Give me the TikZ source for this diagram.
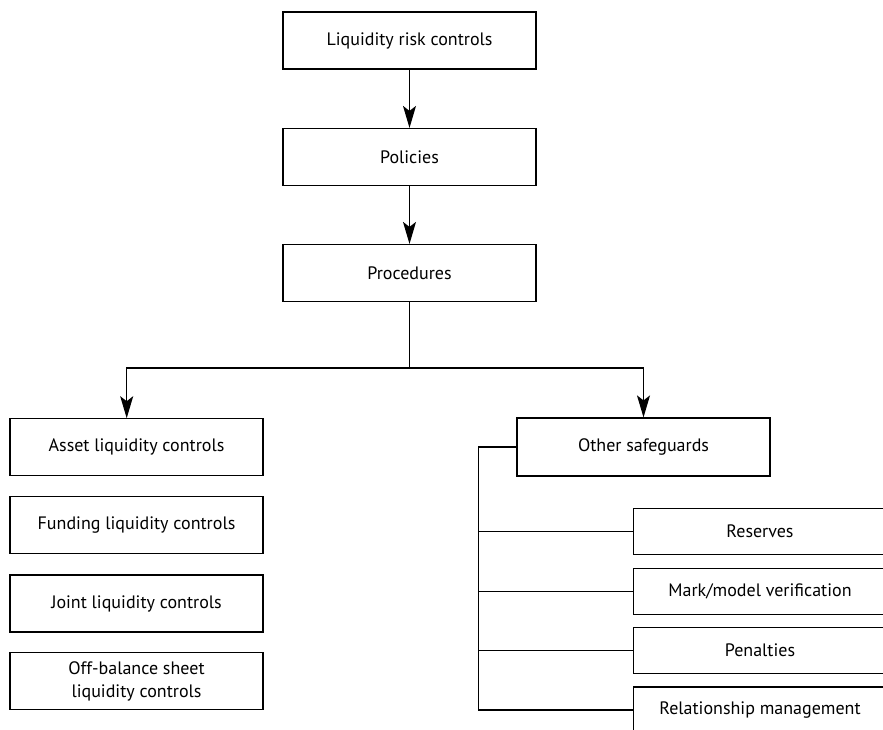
\documentclass[tikz,border=0pt]{standalone}
\usepackage{fontspec}
\setmainfont{PT Sans}
\usetikzlibrary{arrows.meta}
\begin{document}
\begin{tikzpicture}[x=1pt,y=-1pt,
  box/.style={draw,line width=1.2pt,minimum width=253pt,inner sep=0pt,align=center,
    font=\fontsize{18}{23}\selectfont},
  tall/.style={box,minimum height=57pt},
  flat/.style={box,minimum height=46pt},
  link/.style={line width=1.2pt},
  arr/.style={link,-{Stealth[length=22pt,width=13pt,inset=5pt]}}]
\clip (0,0) rectangle (883,729);
\fill[white] (0,0) rectangle (883,729);
% main chain
\node[tall] (top)  at (409.5,40.5) {Liquidity risk controls};
\node[tall] (pol)  at (409.5,157)  {Policies};
\node[tall] (proc) at (409.5,273)  {Procedures};
% left column
\node[tall] (asset) at (136.5,447.3) {Asset liquidity controls};
\node[tall] (fund)  at (136.5,525)   {Funding liquidity controls};
\node[tall] (joint) at (136.5,603.5) {Joint liquidity controls};
\node[tall] (off)   at (136.5,681)   {Off-balance sheet\\liquidity controls};
% right column
\node[tall,minimum height=58pt] (other) at (643.5,447) {Other safeguards};
\node[flat] (res)  at (760,531.3) {Reserves};
\node[flat] (mark) at (760,591.2) {Mark/model verification};
\node[flat] (pen)  at (760,650.7) {Penalties};
\node[flat] (rel)  at (760,710)   {Relationship management};
% arrows
\draw[arr] (top) -- (pol);
\draw[arr] (pol) -- (proc);
\coordinate (split) at (409.5,368);
\coordinate (aL) at (126.7,368);
\coordinate (aR) at (643.5,368);
\draw[link] (proc.south) -- (split);
\draw[arr] (split) -- (aL) -- (aL |- asset.north);
\draw[arr] (split) -- (aR) -- (aR |- other.north);
% safeguard branches
\coordinate (bus) at (478.3,447);
\draw[link] (other.west) -- (bus) |- (rel.west);
\draw[link] (bus |- res.west) -- (res.west);
\draw[link] (bus |- mark.west) -- (mark.west);
\draw[link] (bus |- pen.west) -- (pen.west);
\end{tikzpicture}
\end{document}
